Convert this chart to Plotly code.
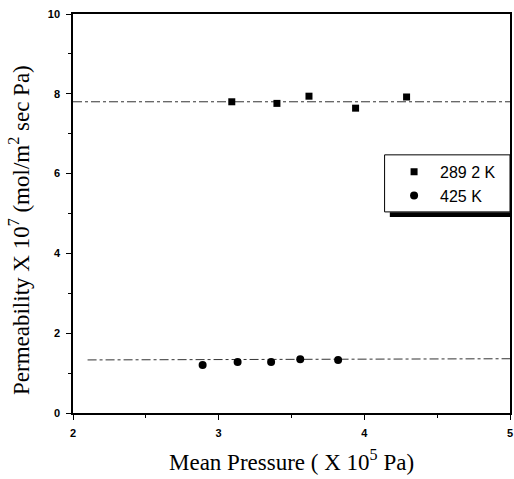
import plotly.graph_objects as go

# Data
p_289 = [3.09, 3.40, 3.62, 3.94, 4.29]
k_289 = [7.80, 7.76, 7.94, 7.64, 7.92]
p_425 = [2.89, 3.13, 3.36, 3.56, 3.82]
k_425 = [1.20, 1.28, 1.28, 1.35, 1.33]
fit_289_x = [2.0, 5.0]
fit_289_y = [7.8, 7.8]
fit_425_x = [2.1, 5.0]
fit_425_y = [1.33, 1.36]

fig = go.Figure()
fig.add_trace(go.Scatter(x=fit_289_x, y=fit_289_y, mode="lines",
                         line=dict(color="#333", width=1, dash="dashdot"),
                         showlegend=False, hoverinfo="skip"))
fig.add_trace(go.Scatter(x=fit_425_x, y=fit_425_y, mode="lines",
                         line=dict(color="#333", width=1, dash="dashdot"),
                         showlegend=False, hoverinfo="skip"))
fig.add_trace(go.Scatter(x=p_289, y=k_289, mode="markers", name="289 2 K",
                         marker=dict(symbol="square", size=7, color="black")))
fig.add_trace(go.Scatter(x=p_425, y=k_425, mode="markers", name="425 K",
                         marker=dict(symbol="circle", size=8, color="black")))

tickfont = dict(family="Arial, Liberation Sans", size=11, color="black", weight="bold")
fig.update_layout(
    width=514, height=479,
    margin=dict(l=73, r=2, t=14, b=66),
    paper_bgcolor="white", plot_bgcolor="white",
    font=dict(family="Liberation Serif, Times New Roman", color="black"),
    xaxis=dict(range=[2, 5], tickvals=[2, 3, 4, 5], ticks="outside", ticklen=5,
               tickcolor="black", showgrid=False, zeroline=False,
               showline=True, linecolor="black", linewidth=1.5, mirror=True,
               tickfont=tickfont, ticklabelstandoff=4,
               minor=dict(tickvals=[2.5, 3.5, 4.5], ticks="outside", ticklen=3, tickcolor="black")),
    yaxis=dict(range=[0, 10], tickvals=[0, 2, 4, 6, 8, 10], ticks="outside", ticklen=5,
               tickcolor="black", showgrid=False, zeroline=False,
               showline=True, linecolor="black", linewidth=1.5, mirror=True,
               tickfont=tickfont, ticklabelstandoff=4,
               minor=dict(tickvals=[1, 3, 5, 7, 9], ticks="outside", ticklen=3, tickcolor="black")),
    legend=dict(x=0.721, y=0.647, xanchor="left", yanchor="top",
                borderwidth=0, bgcolor="rgba(0,0,0,0)",
                font=dict(family="Arial, Liberation Sans", size=16, color="black"),
                itemwidth=42, tracegroupgap=2),
    shapes=[
        dict(type="rect", xref="paper", yref="paper",
             x0=0.713, x1=1.0, y0=0.504, y1=0.647,
             fillcolor="white", line=dict(color="black", width=1), layer="below"),
        dict(type="rect", xref="paper", yref="paper",
             x0=0.725, x1=1.0, y0=0.491, y1=0.503,
             fillcolor="black", line=dict(width=0)),
    ],
    annotations=[
        dict(text="Mean Pressure ( X 10<sup>5</sup> Pa)", xref="paper", yref="paper",
             x=0.5, y=-0.118, xanchor="center", yanchor="middle", showarrow=False,
             font=dict(family="Liberation Serif", size=23, color="black")),
        dict(text="Permeability X 10<sup>7</sup> (mol/m<sup>2</sup> sec Pa)",
             xref="paper", yref="paper", x=-0.121, y=0.459, textangle=-90,
             xanchor="center", yanchor="middle", showarrow=False,
             font=dict(family="Liberation Serif", size=23, color="black")),
    ],
)

fig.write_html("out.html")
